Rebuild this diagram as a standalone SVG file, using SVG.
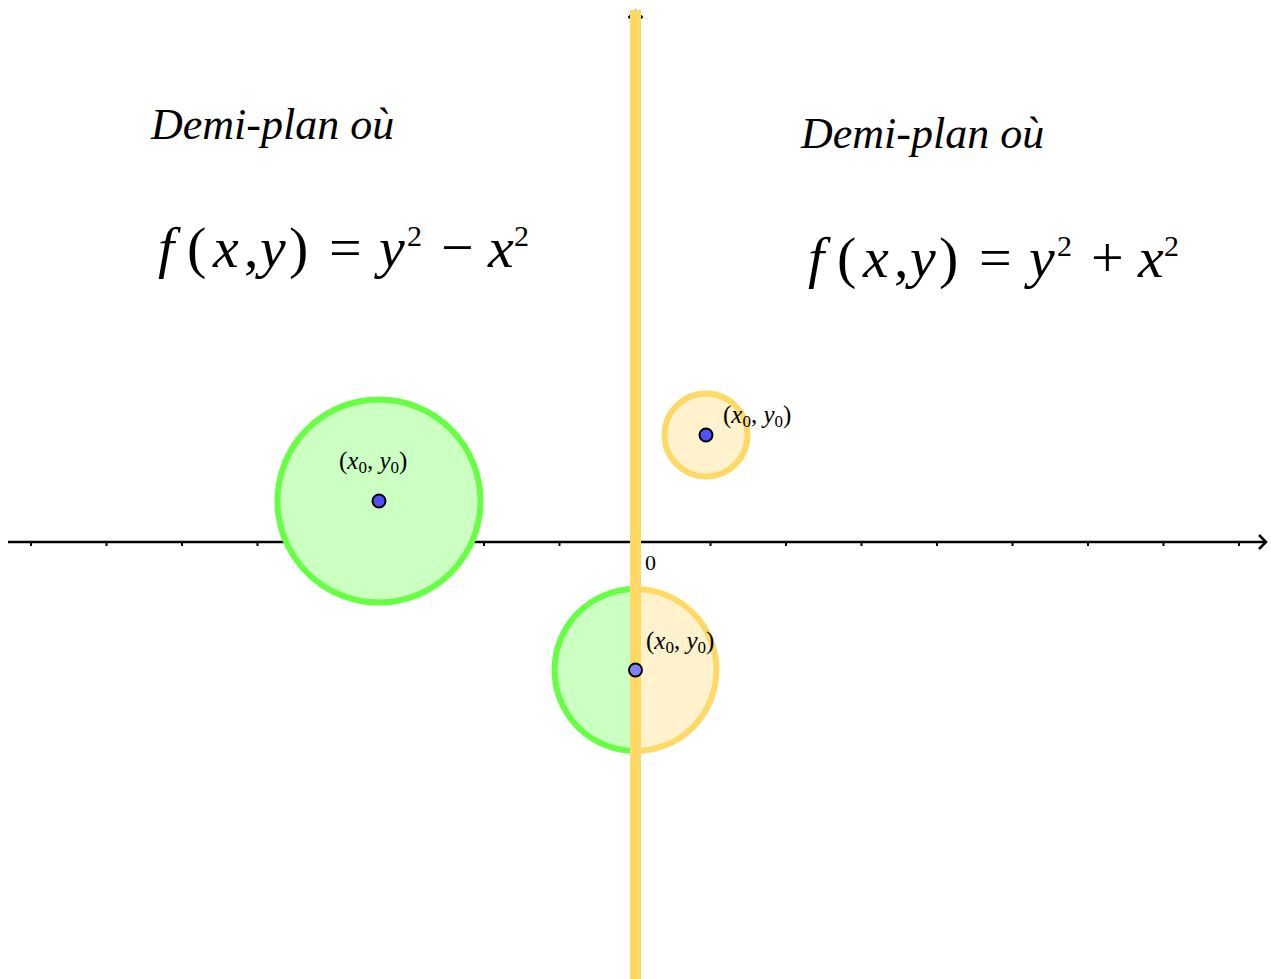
<svg xmlns="http://www.w3.org/2000/svg" width="1271" height="979" viewBox="0 0 1271 979">
<style>
.t{font-family:"Liberation Serif","Times New Roman",serif;fill:#000}
.it{font-style:italic}
.title{font-size:44px}
.fm{font-size:58px}
.sup{font-size:30px}
.lb{font-size:25px}
.sub{font-size:17px}
.ax{stroke:#000;stroke-width:2.5;fill:none}
.tick{stroke:#000;stroke-width:2}
.gfill{fill:#CCFFC2}
.yfill{fill:#FFF2CC}
.gstroke{stroke:#66FF44;stroke-width:6;fill:none}
.ystroke{stroke:#FFD966;stroke-width:6;fill:none}
.pt{fill:#5050FF;stroke:#000;stroke-width:2}
</style>
<rect width="1271" height="979" fill="#fff"/>
<g id="connectors">
<line class="ax" x1="8" y1="542" x2="1266" y2="542"/>
<polyline class="ax" points="1259,535 1266,542 1259,549"/>
<g class="tick">
<line x1="31" y1="542" x2="31" y2="546"/><line x1="106.5" y1="542" x2="106.5" y2="546"/>
<line x1="182" y1="542" x2="182" y2="546"/><line x1="257.5" y1="542" x2="257.5" y2="546"/>
<line x1="333" y1="542" x2="333" y2="546"/><line x1="408.5" y1="542" x2="408.5" y2="546"/>
<line x1="484" y1="542" x2="484" y2="546"/><line x1="559.5" y1="542" x2="559.5" y2="546"/>
<line x1="710.5" y1="542" x2="710.5" y2="546"/><line x1="786" y1="542" x2="786" y2="546"/>
<line x1="861.5" y1="542" x2="861.5" y2="546"/><line x1="937" y1="542" x2="937" y2="546"/>
<line x1="1012.5" y1="542" x2="1012.5" y2="546"/><line x1="1088" y1="542" x2="1088" y2="546"/>
<line x1="1163.5" y1="542" x2="1163.5" y2="546"/><line x1="1239" y1="542" x2="1239" y2="546"/>
</g>
<line class="ax" x1="635.5" y1="979" x2="635.5" y2="12"/>
<polyline class="ax" points="628.5,18 635.5,11 642.5,18"/>
</g>
<g id="circle-left">
<circle class="gfill" cx="379" cy="501" r="101.5"/>
<circle class="gstroke" cx="379" cy="501" r="101.5"/>
</g>
<g id="circle-right">
<circle class="yfill" cx="706" cy="435" r="41.5"/>
<circle class="ystroke" cx="706" cy="435" r="41.5"/>
</g>
<g id="circle-bottom">
<path class="gfill" d="M635.5 589 A81 81 0 0 0 635.5 751 Z"/>
<path class="yfill" d="M635.5 589 A81 81 0 0 1 635.5 751 Z"/>
<path class="gstroke" d="M635.5 589 A81 81 0 0 0 635.5 751"/>
<path class="ystroke" d="M635.5 589 A81 81 0 0 1 635.5 751"/>
</g>
<g id="boundary">
<rect x="630" y="10" width="11" height="969" fill="#FFD966"/>
</g>
<g id="points">
<circle class="pt" cx="379" cy="501" r="6.5"/>
<circle class="pt" cx="706" cy="435" r="6.5"/>
<circle class="pt" cx="635.5" cy="670" r="6.5" style="fill:#8080FF"/>
</g>
<g id="labels">
<text class="t lb" x="339" y="469">(<tspan class="it">x</tspan><tspan class="sub" dy="4">0</tspan><tspan dy="-4">, </tspan><tspan class="it">y</tspan><tspan class="sub" dy="4">0</tspan><tspan dy="-4">)</tspan></text>
<text class="t lb" x="723" y="423">(<tspan class="it">x</tspan><tspan class="sub" dy="4">0</tspan><tspan dy="-4">, </tspan><tspan class="it">y</tspan><tspan class="sub" dy="4">0</tspan><tspan dy="-4">)</tspan></text>
<text class="t lb" x="646" y="649">(<tspan class="it">x</tspan><tspan class="sub" dy="4">0</tspan><tspan dy="-4">, </tspan><tspan class="it">y</tspan><tspan class="sub" dy="4">0</tspan><tspan dy="-4">)</tspan></text>
<text class="t" style="font-size:22px" x="645" y="570">0</text>
</g>
<g id="title-left">
<text class="t it title" x="151" y="139">Demi-plan où</text>
<text class="t fm"><tspan class="it" x="158" y="267">f</tspan><tspan x="187" y="267">(</tspan><tspan class="it" x="213" y="267">x</tspan><tspan x="244" y="267">,</tspan><tspan class="it" x="260" y="267">y</tspan><tspan x="289" y="267">)</tspan><tspan x="329" y="267">=</tspan><tspan class="it" x="379" y="267">y</tspan><tspan x="441" y="267">−</tspan><tspan class="it" x="488" y="267">x</tspan></text>
<text class="t sup" x="407" y="246">2</text>
<text class="t sup" x="514" y="246">2</text>
</g>
<g id="title-right">
<text class="t it title" x="801" y="148">Demi-plan où</text>
<text class="t fm"><tspan class="it" x="808" y="277">f</tspan><tspan x="837" y="277">(</tspan><tspan class="it" x="863" y="277">x</tspan><tspan x="894" y="277">,</tspan><tspan class="it" x="910" y="277">y</tspan><tspan x="939" y="277">)</tspan><tspan x="979" y="277">=</tspan><tspan class="it" x="1029" y="277">y</tspan><tspan x="1091" y="277">+</tspan><tspan class="it" x="1138" y="277">x</tspan></text>
<text class="t sup" x="1057" y="256">2</text>
<text class="t sup" x="1164" y="256">2</text>
</g>
</svg>
